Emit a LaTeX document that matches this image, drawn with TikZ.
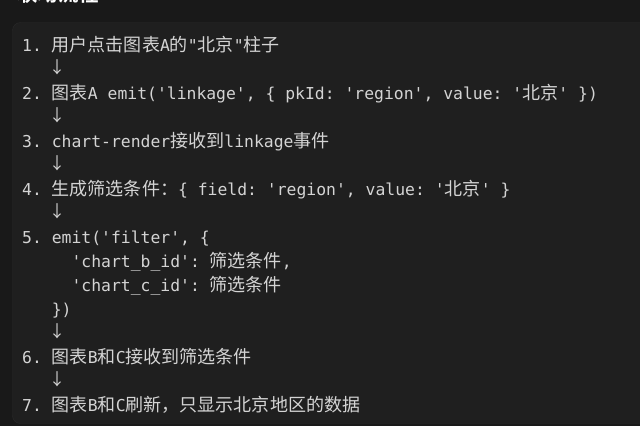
\documentclass[tikz,border=0pt]{standalone}
\usepackage{fontspec}
\newfontfamily\mono{DejaVu Sans Mono}
\newfontfamily\cjk[Scale=1.1]{Noto Sans CJK SC}
\newfontfamily\cjkbold[BoldFont={Noto Sans CJK SC Bold}]{Noto Sans CJK SC}
\definecolor{pagebg}{HTML}{191919}
\definecolor{codebg}{HTML}{1F1F1F}
\definecolor{codeborder}{HTML}{2A2A2A}
\definecolor{codetext}{HTML}{D4D4D4}
\newcommand{\cj}[1]{{\cjk #1}}
\frenchspacing
\begin{document}
\begin{tikzpicture}[x=1pt,y=-1pt,
  codeline/.style={anchor=base west,inner sep=0pt,text=codetext,font=\fontsize{16.4}{20}\mono\frenchspacing},
  arrowline/.style={anchor=base,inner sep=0pt,text=codetext,font=\fontsize{15}{20}\cjk},
  heading/.style={anchor=base west,inner sep=0pt,text=white,font=\fontsize{20.5}{24}\cjkbold\bfseries}]
\useasboundingbox (0,0) rectangle (640,426);
\clip (0,0) rectangle (640,426);
\fill[pagebg] (0,0) rectangle (640,426);
\draw[codeborder,fill=codebg,rounded corners=8pt] (12.5,22.5) rectangle (660,423.5);
\node[heading] (h) at (17,1.5) {联动流程};
\node[codeline] (l1) at (22,51) {1. \cj{用户点击图表}A\cj{的}"\cj{北京}"\cj{柱子}};
\node[arrowline] (a1) at (57,73.5) {↓};
\node[codeline] (l2) at (22,99) {2. \cj{图表}A emit('linkage', \{ pkId: 'region', value: '\cj{北京}' \})};
\node[arrowline] (a2) at (57,121.5) {↓};
\node[codeline] (l3) at (22,147) {3. chart-render\cj{接收到}linkage\cj{事件}};
\node[arrowline] (a3) at (57,169.5) {↓};
\node[codeline] (l4) at (22,195) {4. \cj{生成筛选条件：}\{ field: 'region', value: '\cj{北京}' \}};
\node[arrowline] (a4) at (57,217.5) {↓};
\node[codeline] (l5) at (22,243) {5. emit('filter', \{};
\node[codeline] (l5b) at (22,267) {\ \ \ \ \ 'chart\_b\_id': \cj{筛选条件}, };
\node[codeline] (l5c) at (22,291) {\ \ \ \ \ 'chart\_c\_id': \cj{筛选条件}};
\node[codeline] (l5d) at (22,315) {\ \ \ \})};
\node[arrowline] (a5) at (57,337.5) {↓};
\node[codeline] (l6) at (22,363) {6. \cj{图表}B\cj{和}C\cj{接收到筛选条件}};
\node[arrowline] (a6) at (57,385.5) {↓};
\node[codeline] (l7) at (22,411) {7. \cj{图表}B\cj{和}C\cj{刷新，只显示北京地区的数据}};
\end{tikzpicture}
\end{document}
